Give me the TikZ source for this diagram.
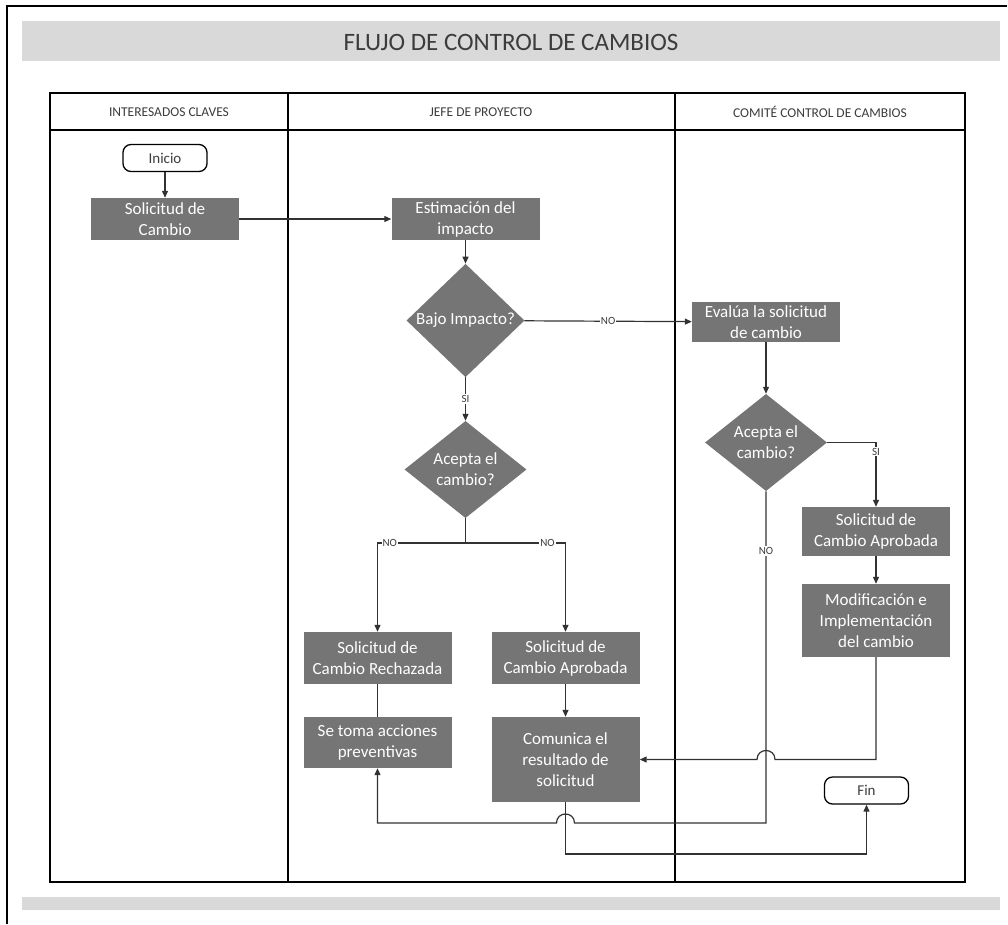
\documentclass[tikz,border=0pt]{standalone}
\usepackage{fontspec}
\setmainfont{Carlito}
\usetikzlibrary{shapes.geometric,arrows.meta}
\definecolor{boxgray}{RGB}{117,117,117}
\definecolor{bargray}{RGB}{217,217,217}
\definecolor{linec}{RGB}{50,50,50}
\definecolor{txtc}{RGB}{60,60,60}
\begin{document}
\begin{tikzpicture}[x=1pt,y=-1pt,
  proc/.style={rectangle,fill=boxgray,text=white,align=center,inner sep=0pt,
    minimum width=148pt,font=\fontsize{17}{21}\selectfont},
  decis/.style={diamond,fill=boxgray,text=white,align=center,inner sep=0pt,
    minimum width=122pt,minimum height=95pt,font=\fontsize{17}{21}\selectfont},
  term/.style={rectangle,rounded corners=8pt,draw=black,line width=1.3pt,fill=white,
    text=txtc,minimum width=84pt,minimum height=27pt,inner sep=0pt,
    font=\fontsize{15}{18}\selectfont},
  conn/.style={draw=linec,line width=1.2pt},
  arr/.style={conn,-{Triangle[length=7pt,width=6pt]}},
  lbl/.style={fill=white,inner sep=1pt,text=txtc,font=\fontsize{11}{12}\selectfont},
  lane/.style={draw=black,line width=1.6pt},
  head/.style={text=txtc,font=\fontsize{13.5}{16}\selectfont}]
\useasboundingbox (0,0) rectangle (1008,924);

% page frame and grey bars
\draw[line width=1.4pt] (7,924) -- (7,6) -- (1007,6);
\fill[bargray] (22,21) rectangle (1000,61);
\fill[bargray] (22,897) rectangle (1000,910);
\node[text=txtc,font=\fontsize{25}{29}\selectfont] (title) at (511,42) {FLUJO DE CONTROL DE CAMBIOS};

% swimlanes
\draw[lane] (50,93) rectangle (965,882);
\draw[lane] (50,130) -- (965,130);
\draw[lane] (288,93) -- (288,882);
\draw[lane] (675,93) -- (675,882);
\node[head] (h1) at (169,112) {INTERESADOS CLAVES};
\node[head] (h2) at (481,112) {JEFE DE PROYECTO};
\node[head] (h3) at (820,112) {COMITÉ CONTROL DE CAMBIOS};

% nodes
\node[term] (ini) at (165,158) {Inicio};
\node[proc,minimum height=42pt] (sol) at (165,219) {Solicitud de\\Cambio};
\node[proc,minimum height=42pt] (est) at (465.5,219) {Estimación del\\impacto};
\node[decis,minimum width=118pt] (bajo) at (465.5,320.5) {Bajo Impacto?};
\node[proc,minimum height=40pt] (eval) at (766,322) {Evalúa la solicitud\\de cambio};
\node[decis] (acc2) at (766,442.5) {Acepta el\\cambio?};
\node[proc,minimum height=49pt] (apr2) at (876,531.5) {Solicitud de\\Cambio Aprobada};
\node[proc,minimum height=73pt] (mod) at (876,620.5) {Modificación e\\Implementación\\del cambio};
\node[decis] (acc1) at (465.5,469.5) {Acepta el\\cambio?};
\node[proc,minimum height=52pt] (rech) at (377.5,658) {Solicitud de\\Cambio Rechazada};
\node[proc,minimum height=52pt] (apr1) at (565.5,658) {Solicitud de\\Cambio Aprobada};
\node[proc,minimum height=51pt] (prev) at (377.5,742.5) {Se toma acciones\\preventivas};
\node[proc,minimum height=85pt] (com) at (565.5,759.5) {Comunica el\\resultado de\\solicitud};
\node[term] (fin) at (866.5,790.5) {Fin};

% helper points
\coordinate (split) at (465.5,543);
\coordinate (jmpAr) at (775,759.5);
\coordinate (jmpAl) at (757,759.5);
\coordinate (noTurn) at (766,823);
\coordinate (jmpBr) at (574.5,823);
\coordinate (jmpBl) at (556.5,823);
\coordinate (prevTurn) at (377.5,823);
\coordinate (comTurn) at (565.5,854);

% connectors
\draw[arr] (ini) -- (sol);
\draw[arr] (sol) -- (est);
\draw[arr] (est) -- (bajo);
\draw[arr] (bajo) -- node[lbl,pos=0.5]{NO} (eval);
\draw[arr] (bajo) -- node[lbl,pos=0.5]{SI} (acc1);
\draw[conn] (acc1.south) -- (split);
\draw[arr] (split) -| node[lbl,pos=0.43]{NO} (rech.north);
\draw[arr] (split) -| node[lbl,pos=0.41]{NO} (apr1.north);
\draw[conn] (rech) -- (prev);
\draw[arr] (apr1) -- (com);
\draw[arr] (eval) -- (acc2);
\draw[arr] (acc2.east) -| node[lbl,pos=0.57]{SI} (apr2.north);
\draw[arr] (apr2) -- (mod);
\draw[arr] (mod.south) |- (jmpAr) .. controls +(0,-12) and +(0,-12) .. (jmpAl) -- (com.east);
\draw[arr] (acc2.south) -- node[lbl,pos=0.18]{NO} (noTurn) -- (jmpBr)
  .. controls +(0,-12) and +(0,-12) .. (jmpBl) -- (prevTurn) -- (prev.south);
\draw[arr] (com.south) -- (comTurn) -| (fin.south);
\end{tikzpicture}
\end{document}
